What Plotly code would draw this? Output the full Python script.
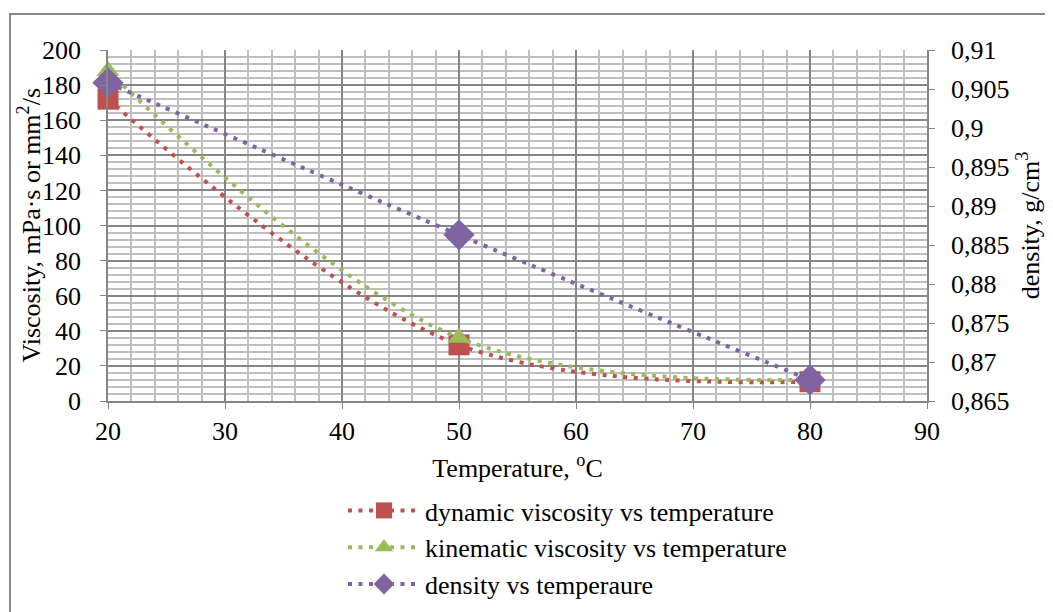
import plotly.graph_objects as go

temperature = [20, 50, 80]
dynamic_viscosity = [172, 32, 11]
kinematic_viscosity = [188, 36, 12]
density = [0.9058, 0.8863, 0.8677]

density_tickvals = [0.865, 0.87, 0.875, 0.88, 0.885, 0.89, 0.895, 0.9, 0.905, 0.91]
density_ticktext = ["0,865", "0,87", "0,875", "0,88", "0,885", "0,89", "0,895", "0,9", "0,905", "0,91"]

FONT = "Times New Roman, Liberation Serif, Tinos, Times, serif"
FS = 26
RED = "#C0504D"
GREEN = "#9BBB59"
PURPLE = "#8064A2"
DASH = "4px,6.5px"

fig = go.Figure()
fig.add_trace(go.Scatter(
    x=temperature, y=dynamic_viscosity, name="dynamic viscosity vs temperature",
    mode="lines+markers", cliponaxis=False,
    line=dict(color=RED, width=4, dash=DASH, shape="spline", smoothing=1),
    marker=dict(symbol="square", size=21, color=RED)))
fig.add_trace(go.Scatter(
    x=temperature, y=kinematic_viscosity, name="kinematic viscosity vs temperature",
    mode="lines+markers", cliponaxis=False,
    line=dict(color=GREEN, width=4, dash=DASH, shape="spline", smoothing=1),
    marker=dict(symbol="triangle-up", size=20, color=GREEN)))
fig.add_trace(go.Scatter(
    x=temperature, y=density, name="density vs temperaure", yaxis="y2",
    mode="lines+markers", cliponaxis=False,
    line=dict(color=PURPLE, width=4, dash=DASH, shape="spline", smoothing=1),
    marker=dict(symbol="diamond", size=24, color=PURPLE)))

OFF = 8  # page body margin
W, H = 1053 - OFF, 612 - OFF
L, T = 108 - OFF, 50 - OFF
R = W - (927 - OFF)
B = H - (401 - OFF)
pw, ph = W - L - R, H - T - B

def px_x(x):
    return (x - OFF - L) / pw

def px_y(y):
    return (H - B - (y - OFF)) / ph

fig.update_layout(
    width=W, height=H,
    margin=dict(l=L, r=R, t=T, b=B, autoexpand=False),
    paper_bgcolor="white", plot_bgcolor="white",
    font=dict(family=FONT, size=FS, color="black"),
    showlegend=True,
    legend=dict(x=px_x(343), y=px_y(487), xanchor="left", yanchor="top",
                font=dict(family=FONT, size=FS), itemwidth=72, bgcolor="rgba(0,0,0,0)",
                tracegroupgap=0),
    xaxis=dict(
        range=[20, 90], dtick=10, tick0=20,
        showline=True, linecolor="#868686", linewidth=1.5,
        ticks="outside", ticklen=6, tickcolor="#868686",
        showgrid=True, gridcolor="#868686", gridwidth=1.5,
        minor=dict(dtick=2, showgrid=True, gridcolor="#BFBFBF", gridwidth=1.5),
        zeroline=False,
        tickfont=dict(family=FONT, size=FS),
        title=dict(text="Temperature, <sup>o</sup>C", font=dict(family=FONT, size=FS), standoff=14),
    ),
    yaxis=dict(
        range=[0, 200], dtick=20,
        showline=True, linecolor="#868686", linewidth=1.5,
        ticks="outside", ticklen=6, tickcolor="#868686",
        ticklabelstandoff=14,
        showgrid=True, gridcolor="#868686", gridwidth=1.5,
        minor=dict(dtick=4, showgrid=True, gridcolor="#BFBFBF", gridwidth=1.5),
        zeroline=False,
        tickfont=dict(family=FONT, size=FS),
    ),
    yaxis2=dict(
        overlaying="y", side="right", range=[0.865, 0.91],
        tickvals=density_tickvals, ticktext=density_ticktext,
        showline=True, linecolor="#868686", linewidth=1.5,
        ticks="outside", ticklen=6, tickcolor="#868686",
        ticklabelstandoff=11,
        showgrid=False, zeroline=False,
        tickfont=dict(family=FONT, size=FS),
        title=dict(text="density, g/cm<sup>3</sup>", font=dict(family=FONT, size=FS), standoff=12),
    ),
    annotations=[dict(text="Viscosity, mPa·s or mm<sup>2</sup>/s", xref="paper", yref="paper",
                      x=px_x(30), y=0.5, xanchor="center", yanchor="middle", textangle=-90,
                      showarrow=False, font=dict(family=FONT, size=FS))],
    shapes=[dict(type="rect", xref="paper", yref="paper",
                 x0=px_x(10), x1=px_x(1070), y0=px_y(630), y1=px_y(14),
                 line=dict(color="#888888", width=2), fillcolor="rgba(0,0,0,0)", layer="below")],
)

fig.write_html("out.html")
